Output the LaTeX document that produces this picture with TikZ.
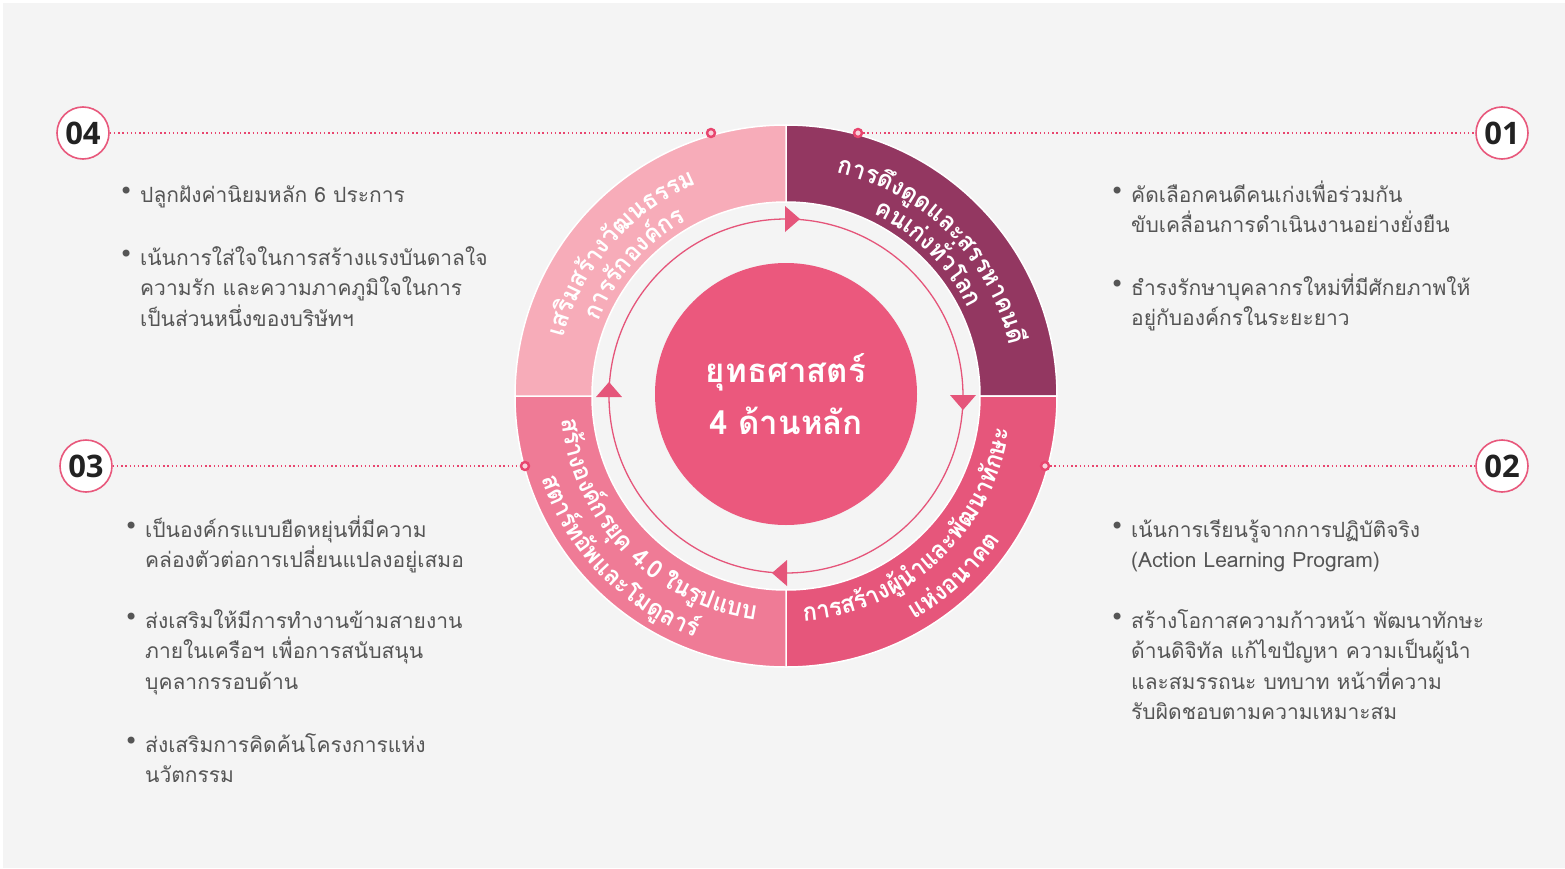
\documentclass[tikz,border=0pt]{standalone}
\usepackage{fontspec}
\setmainfont{Open Sans}
\newfontfamily\thaifont[Script=Thai]{Loma}
\newfontfamily\ringthai[Script=Thai,FakeStretch=0.95]{Loma}
\newfontfamily\numfont{Open Sans}
\newfontfamily\symfont{DejaVu Sans}
\usetikzlibrary{arrows.meta,decorations.text}

\definecolor{paper}{HTML}{F4F4F4}
\definecolor{segA}{HTML}{933761}
\definecolor{segB}{HTML}{E6567B}
\definecolor{segC}{HTML}{EF7B96}
\definecolor{segD}{HTML}{F7ACB9}
\definecolor{hubpink}{HTML}{EB587D}
\definecolor{arrowpink}{HTML}{E5557A}
\definecolor{dotpink}{HTML}{E8456E}
\definecolor{ringpink}{HTML}{E8587C}
\definecolor{bodygray}{HTML}{555555}
\definecolor{numdark}{HTML}{222222}

\newcommand\ringfont{\ringthai\bfseries\fontsize{25}{25}\selectfont}
\newcommand\bul{\llap{\raisebox{3pt}{\symfont\fontsize{24}{24}\selectfont •}\hspace{7pt}}}
\newcommand\bline[1]{\hbox{#1}}
% #1 centre angle, #2 baseline radius, #3 1 = clockwise / -1 = counter clockwise, #4 text
\newcommand\ringtext[4]{%
  \path[ring label,decoration={text={|\ringfont|#4}}]
    (#1+#3*75:#2) arc[start angle=#1+#3*75,end angle=#1-#3*75,radius=#2pt];}

\begin{document}
\begin{tikzpicture}[x=1pt,y=1pt,
    num node/.style={circle,draw=ringpink,line width=1.6pt,fill=white,minimum size=52pt,inner sep=0,text=numdark,font=\numfont\bfseries\fontsize{31}{31}\selectfont},
    mark node/.style={circle,draw=dotpink,fill=white!75!dotpink,line width=2.4pt,inner sep=0,minimum size=8pt},
    dot line/.style={draw=dotpink,line width=1.4pt,dash pattern=on 1.4pt off 2.8pt},
    hub node/.style={circle,fill=hubpink,minimum size=262pt,inner sep=0,align=center,text=white,font=\thaifont\bfseries\fontsize{33}{52}\selectfont},
    ring label/.style={decorate,decoration={text along path,text align=center,text color=white}},
    body/.style={anchor=base west,inner sep=0,text=bodygray,font=\thaifont\fontsize{21}{30.5}\selectfont}]

    \useasboundingbox (-786,-472) rectangle (779,396);
    \fill[white] (-786,-472) rectangle (779,396);
    \fill[paper] (-783,-472) rectangle (779,393);

    \foreach \a/\col in {0/segA,-90/segB,180/segC,90/segD}
        \filldraw[fill=\col,draw=white,line width=1.5pt] (\a:194) arc[start angle=\a,end angle=\a+90,radius=194pt]
            -- (\a+90:271) arc[start angle=\a+90,end angle=\a,radius=271pt] -- cycle;

    \draw[arrowpink,line width=1.3pt] (0,0) circle[radius=177pt];
    \foreach \a in {90,0,-90,180}
        \fill[arrowpink,rotate=\a-90] (-1,164) -- (-1,190) -- (14,177) -- cycle;

    \node[hub node] at (0,2) (hub) {ยุทธศาสตร์\\4 ด้านหลัก};

    \ringtext{139}{230}{1}{เส{ริ}มส{ร้}าง{วั}ฒนธรรม}
    \ringtext{139}{202}{1}{การ{รั}กอง{ค์}กร}
    \ringtext{45}{229}{1}{การ{ดึ}ง{ดู}ดและสรรหาคน{ดี}}
    \ringtext{45}{202}{1}{คนเ{ก่}ง{ทั่}วโลก}
    \ringtext{-47}{226}{-1}{การส{ร้}าง{ผู้}{นำ}และ{พั}ฒนา{ทั}กษะ}
    \ringtext{-47}{258}{-1}{แ{ห่}งอนาคต}
    \ringtext{224}{226}{-1}{ส{ร้}างอง{ค์}กร{ยุ}ค 4.0 ใน{รู}ปแบบ}
    \ringtext{224}{258}{-1}{สตา{ร์}ท{อั}พและโม{ดู}ลา{ร์}}

    \node[num node] at (716,263) (n1) {01};
    \node[num node] at (716,-70) (n2) {02};
    \node[num node] at (-700,-70) (n3) {03};
    \node[num node] at (-703,263) (n4) {04};

    \node[mark node] at (72,263) (m1) {};
    \node[mark node] at (259,-70) (m2) {};
    \node[mark node] at (-261,-70) (m3) {};
    \node[mark node] at (-75,263) (m4) {};

    \path (m1) edge[dot line] (n1)
          (m2) edge[dot line] (n2)
          (n3) edge[dot line] (m3)
          (n4) edge[dot line] (m4);

    \node[body] at (345,194) (t1a) {\vtop{\bline{\bul คัดเลือกคนดีคนเก่งเพื่อร่วมกัน}\bline{ขับเคลื่อนการดำเนินงานอย่างยั่งยืน}}};
    \node[body] at (345,101) (t1b) {\vtop{\bline{\bul ธำรงรักษาบุคลากรใหม่ที่มีศักยภาพให้}\bline{อยู่กับองค์กรในระยะยาว}}};

    \node[body] at (345,-141) (t2a) {\vtop{\bline{\bul เน้นการเรียนรู้จากการปฏิบัติจริง}\bline{(Action Learning Program)}}};
    \node[body] at (345,-232) (t2b) {\vtop{\bline{\bul สร้างโอกาสความก้าวหน้า พัฒนาทักษะ}\bline{ด้านดิจิทัล แก้ไขปัญหา ความเป็นผู้นำ}\bline{และสมรรถนะ บทบาท หน้าที่ความ}\bline{รับผิดชอบตามความเหมาะสม}}};

    \node[body] at (-641,-141) (t3a) {\vtop{\bline{\bul เป็นองค์กรแบบยืดหยุ่นที่มีความ}\bline{คล่องตัวต่อการเปลี่ยนแปลงอยู่เสมอ}}};
    \node[body] at (-641,-232) (t3b) {\vtop{\bline{\bul ส่งเสริมให้มีการทำงานข้ามสายงาน}\bline{ภายในเครือฯ เพื่อการสนับสนุน}\bline{บุคลากรรอบด้าน}}};
    \node[body] at (-641,-356) (t3c) {\vtop{\bline{\bul ส่งเสริมการคิดค้นโครงการแห่ง}\bline{นวัตกรรม}}};

    \node[body] at (-646,194) (t4a) {\vtop{\bline{\bul ปลูกฝังค่านิยมหลัก 6 ประการ}}};
    \node[body] at (-646,131) (t4b) {\vtop{\bline{\bul เน้นการใส่ใจในการสร้างแรงบันดาลใจ}\bline{ความรัก และความภาคภูมิใจในการ}\bline{เป็นส่วนหนึ่งของบริษัทฯ}}};
\end{tikzpicture}
\end{document}
